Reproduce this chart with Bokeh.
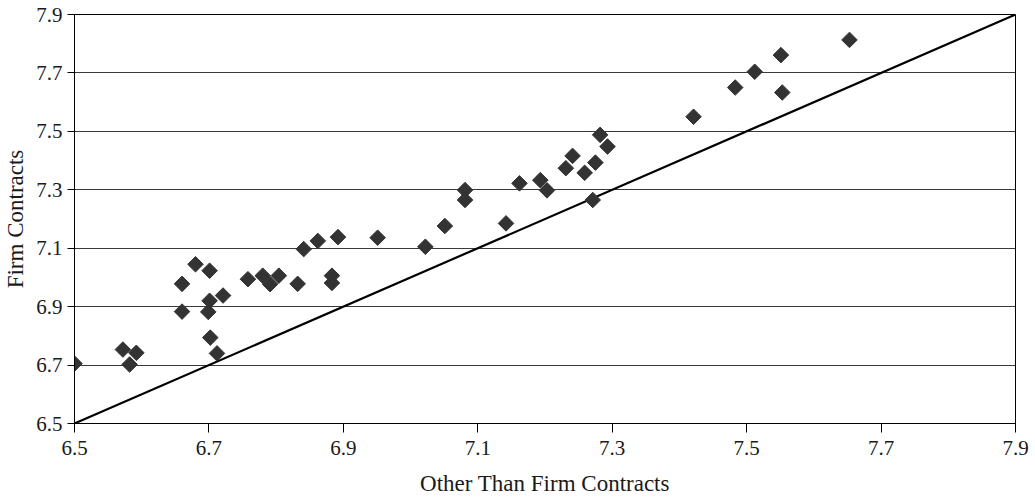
from bokeh.plotting import figure
from bokeh.models import FixedTicker, Range1d
from bokeh.embed import file_html
from bokeh.resources import INLINE
import math

# Data
other_than_firm = [6.500, 6.572, 6.582, 6.592, 6.660, 6.660, 6.680, 6.701, 6.701, 6.699,
                   6.702, 6.712, 6.721, 6.758, 6.780, 6.791, 6.804, 6.832, 6.841, 6.862,
                   6.883, 6.883, 6.892, 6.951, 7.022, 7.051, 7.081, 7.081, 7.142, 7.162,
                   7.193, 7.203, 7.231, 7.241, 7.259, 7.275, 7.271, 7.282, 7.293, 7.421,
                   7.483, 7.512, 7.551, 7.553, 7.653]
firm = [6.705, 6.753, 6.702, 6.742, 6.978, 6.883, 7.045, 7.023, 6.920, 6.882,
        6.794, 6.740, 6.938, 6.994, 7.006, 6.977, 7.006, 6.978, 7.097, 7.125,
        7.006, 6.981, 7.138, 7.136, 7.105, 7.176, 7.299, 7.265, 7.185, 7.322,
        7.333, 7.298, 7.374, 7.416, 7.358, 7.393, 7.265, 7.488, 7.448, 7.550,
        7.650, 7.704, 7.761, 7.633, 7.813]
diag_x = [6.5, 7.9]
diag_y = [6.5, 7.9]
tick_values = [6.5, 6.7, 6.9, 7.1, 7.3, 7.5, 7.7, 7.9]

FONT = "Liberation Serif"
TXT = "#1a1a1a"

p = figure(frame_width=941, frame_height=409, output_backend="svg", toolbar_location=None,
           x_range=Range1d(6.5, 7.9), y_range=Range1d(6.5, 7.9),
           min_border_left=70, min_border_top=14, min_border_right=15, min_border_bottom=70)
p.outline_line_color="black"
p.outline_line_width=1
p.background_fill_color="white"
p.border_fill_color="white"

p.xgrid.grid_line_color=None
p.ygrid.grid_line_color="#3a3a3a"
p.ygrid.grid_line_width=1

for ax in (p.xaxis[0], p.yaxis[0]):
    ax.ticker = FixedTicker(ticks=tick_values)
    ax.minor_tick_line_color = None
    ax.major_tick_in = 0
    ax.axis_line_color = "black"
    ax.major_tick_line_color = "black"
    ax.major_label_text_font = FONT
    ax.major_label_text_font_size = "21px"
    ax.major_label_text_color = TXT
    ax.axis_label_text_font = FONT
    ax.axis_label_text_font_size = "23px"
    ax.axis_label_text_font_style = "normal"
    ax.axis_label_text_color = TXT

p.xaxis.axis_label = "Other Than Firm Contracts"
p.yaxis.axis_label = "Firm Contracts"
p.xaxis.major_tick_out = 9
p.yaxis.major_tick_out = 7
p.xaxis.major_label_standoff = 8
p.yaxis.major_label_standoff = 5
p.xaxis.axis_label_standoff = 13
p.yaxis.axis_label_standoff = 5

p.line(diag_x, diag_y, line_color="black", line_width=2.2)
p.scatter(other_than_firm, firm, marker="square", angle=math.pi/4, size=11,
          fill_color="#333333", line_color="#333333")

open("out.html", "w").write(file_html(p, INLINE))
